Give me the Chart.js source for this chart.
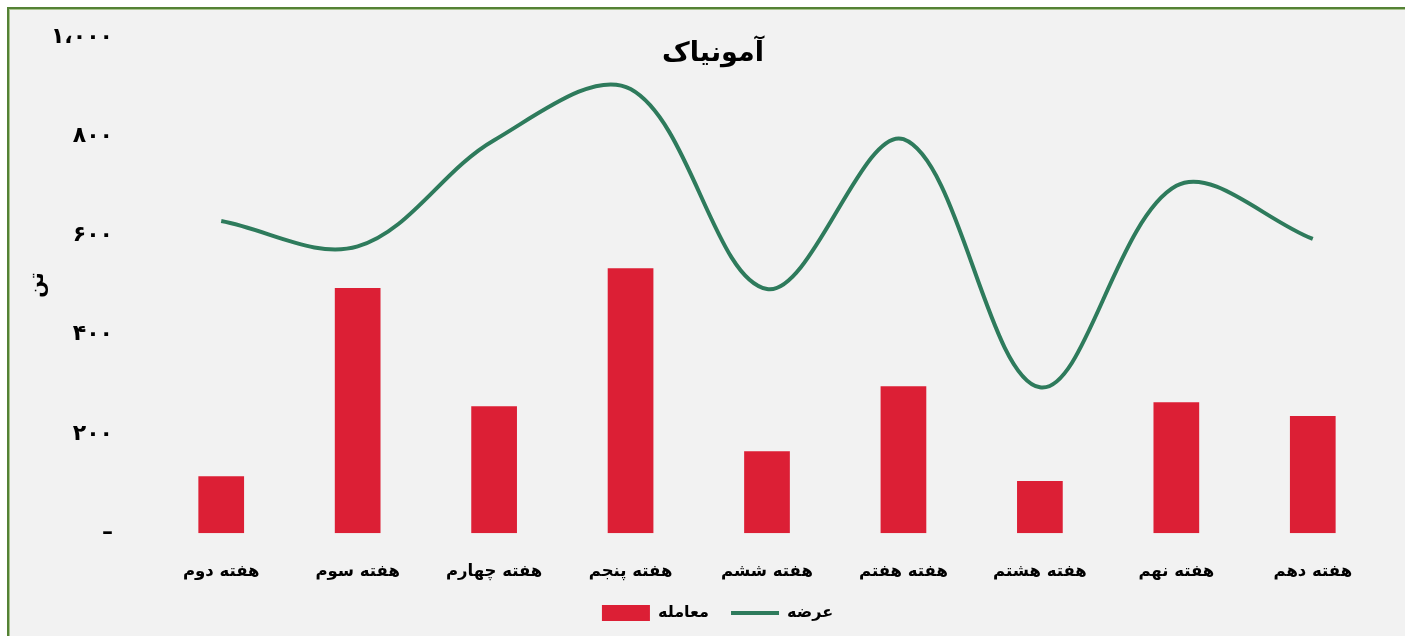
<!DOCTYPE html>
<html>
<head>
<meta charset="utf-8">
<script src="https://cdn.jsdelivr.net/npm/chart.js@4.4.1/dist/chart.umd.min.js"></script>
<style>
  html, body { margin: 0; padding: 0; background: #ffffff; width: 1405px; height: 636px; overflow: hidden; }
  #frame { position: absolute; left: 7px; top: 7px; width: 1500px; height: 700px; background: #f2f2f2; border-top: 2px solid #548235; border-left: 2px solid #548235; box-shadow: inset 1px 1px 0 #a9c48f; }
  #wrap { position: absolute; left: 0; top: 0; width: 1405px; height: 636px; }
</style>
</head>
<body>
<div id="frame"></div>
<div id="wrap"><canvas id="c" width="1405" height="636"></canvas></div>
<script>
const categories = ['هفته دوم', 'هفته سوم', 'هفته چهارم', 'هفته پنجم', 'هفته ششم', 'هفته هفتم', 'هفته هشتم', 'هفته نهم', 'هفته دهم'];
const tradeValues = [115, 494, 256, 534, 165, 296, 105, 264, 236];
const supplyValues = [629, 578, 792, 895, 492, 794, 294, 700, 593];
const yTicks = [0, 200, 400, 600, 800, 1000];
const yTickLabels = ['–', '۲۰۰', '۴۰۰', '۶۰۰', '۸۰۰', '۱،۰۰۰'];
const seriesNames = ['معامله', 'عرضه'];
const chartTitle = 'آمونیاک';
const yAxisTitle = 'تن';

const FONT = '"DejaVu Sans", sans-serif';

const layoutPlugin = {
  id: 'innerTitle',
  afterLayout(chart) {
    const lg = chart.legend;
    if (lg) {
      lg.left += 17;
      lg.right += 17;
      lg.top = 583;
      lg.bottom = 636;
      lg.height = 53;
    }
  },
  afterDraw(chart) {
    const ctx = chart.ctx;
    ctx.save();
    ctx.font = 'bold 27px ' + FONT;
    ctx.fillStyle = '#000';
    ctx.textAlign = 'center';
    ctx.textBaseline = 'middle';
    ctx.fillText(chartTitle, 713, 54);
    ctx.restore();
  }
};

new Chart(document.getElementById('c'), {
  type: 'bar',
  data: {
    labels: categories,
    datasets: [
      {
        type: 'bar',
        label: seriesNames[0],
        data: tradeValues,
        backgroundColor: '#dc1f35',
        borderWidth: 0,
        barPercentage: 0.335,
        categoryPercentage: 1.0
      },
      {
        type: 'line',
        label: seriesNames[1],
        data: supplyValues,
        borderColor: '#2e7b5c',
        backgroundColor: '#2e7b5c',
        borderWidth: 4,
        pointRadius: 0,
        tension: 0.35,
        fill: false
      }
    ]
  },
  options: {
    responsive: false,
    animation: false,
    devicePixelRatio: 1,
    layout: { padding: { left: 20, right: 24, top: 37, bottom: 5 } },
    plugins: {
      tooltip: { enabled: false },
      title: { display: false },
      legend: {
        position: 'bottom',
        maxHeight: 20,
        labels: {
          font: { family: FONT, size: 16, weight: 'bold' },
          color: '#000',
          usePointStyle: true,
          pointStyleWidth: 48,
          boxHeight: 16,
          padding: 22,
          generateLabels(chart) {
            return chart.data.datasets.map((ds, i) => ({
              text: ds.label,
              fillStyle: ds.type === 'bar' ? ds.backgroundColor : ds.borderColor,
              strokeStyle: ds.type === 'bar' ? ds.backgroundColor : ds.borderColor,
              lineWidth: ds.type === 'bar' ? 0 : 4,
              pointStyle: ds.type === 'bar' ? 'rect' : 'line',
              fontColor: '#000',
              hidden: false,
              datasetIndex: i
            }));
          }
        }
      }
    },
    scales: {
      x: {
        grid: { display: false, drawTicks: false },
        border: { display: false },
        ticks: {
          font: { family: FONT, size: 16.5, weight: 'bold' },
          color: '#000',
          padding: 29,
          maxRotation: 0
        }
      },
      y: {
        min: 0,
        max: 1000,
        afterBuildTicks(axis) { axis.ticks = yTicks.map(v => ({ value: v })); },
        afterFit(axis) { axis.width = 133; axis.paddingTop = 0; axis.paddingBottom = 0; },
        grid: { display: false, drawTicks: false },
        border: { display: false },
        title: {
          display: true,
          text: yAxisTitle,
          font: { family: FONT, size: 20, weight: 'bold' },
          color: '#000',
          padding: { top: 6, bottom: 0 }
        },
        ticks: {
          font: { family: FONT, size: 22, weight: 'bold' },
          color: '#000',
          padding: 40,
          callback(value) {
            const idx = yTicks.indexOf(value);
            return idx >= 0 ? yTickLabels[idx] : '';
          }
        }
      }
    }
  },
  plugins: [layoutPlugin]
});
</script>
</body>
</html>
